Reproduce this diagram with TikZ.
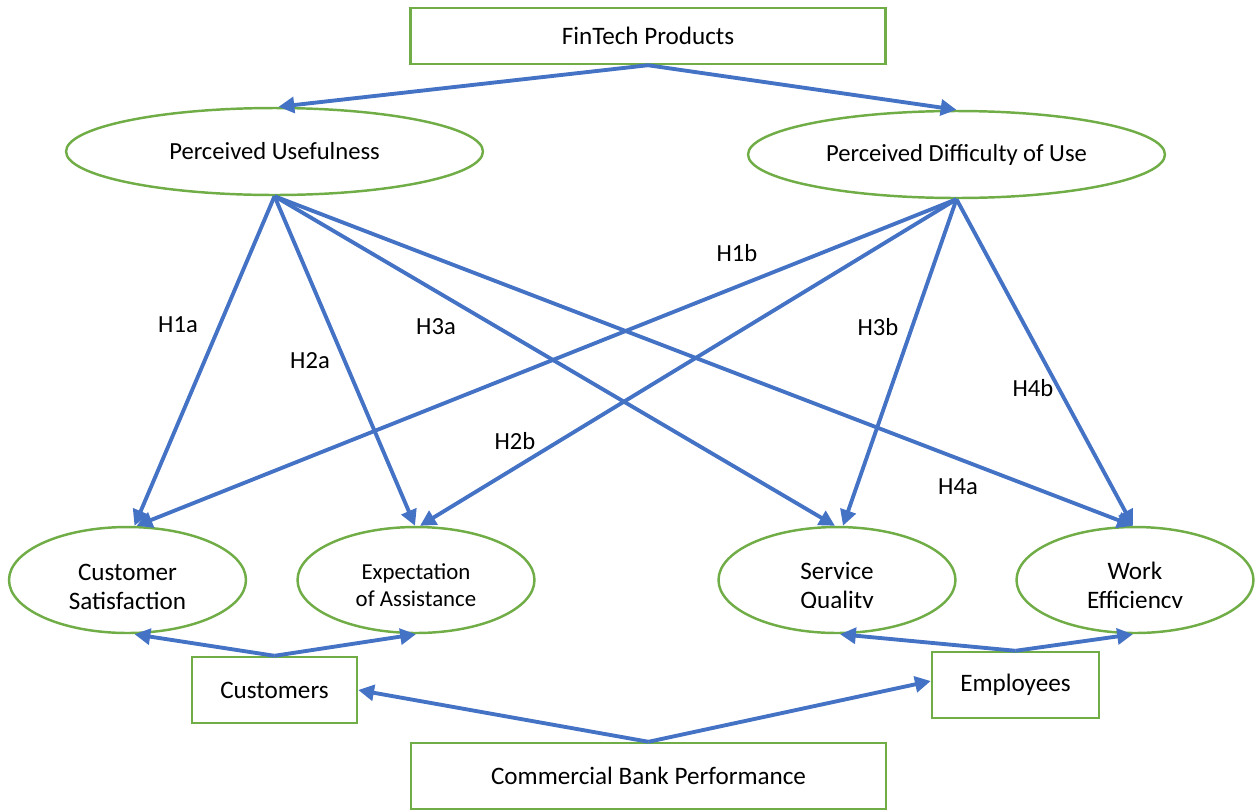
\documentclass[tikz,border=0pt]{standalone}
\usepackage{fontspec}
\setmainfont{Carlito}
\usetikzlibrary{arrows.meta,shapes.geometric}
\definecolor{grn}{HTML}{70AD47}
\definecolor{blu}{HTML}{4472C4}
\tikzset{
  rbox/.style={draw=grn,line width=1.4pt,rectangle,inner sep=0pt,font=\fontsize{14.3}{17}\selectfont},
  ellbig/.style={draw=grn,line width=1.4pt,ellipse,inner sep=0pt,minimum width=8.34cm,minimum height=1.74cm,font=\fontsize{14}{17}\selectfont},
  ellsm/.style={draw=grn,line width=1.4pt,ellipse,inner sep=0pt,minimum width=4.74cm,minimum height=2.12cm},
  etxt/.style={align=center,inner sep=0pt,font=\fontsize{14.3}{16.5}\selectfont},
  etxts/.style={align=center,inner sep=0pt,font=\fontsize{13}{15.5}\selectfont},
  hlab/.style={inner sep=0pt,font=\fontsize{14}{16}\selectfont},
  arr/.style={draw=blu,line width=2.2pt,-{Triangle[length=9pt,width=9pt]}},
}
\begin{document}
\begin{tikzpicture}[x=0.02cm,y=-0.02cm]
\useasboundingbox (0,0) rectangle (1255,809);
% boxes
\node[rbox,minimum width=9.5cm,minimum height=1.12cm] (fp) at (648,36) {FinTech Products};
\node[rbox,minimum width=3.3cm,minimum height=1.32cm] (cu) at (274.5,690) {Customers};
\node[rbox,minimum width=3.34cm,minimum height=1.32cm] (em) at (1015.5,685) {Employees};
\node[rbox,minimum width=9.5cm,minimum height=1.32cm] (cbp) at (648.5,776) {Commercial Bank Performance};
% big ellipses
\node[ellbig] (pu) at (274.5,151.5) {Perceived Usefulness};
\node[ellbig] (pd) at (956.5,154.5) {Perceived Difficulty of Use};
% small ellipses
\node[ellsm] (cs) at (127.5,580) {};
\node[etxt] (cst) at (127.5,587) {Customer\\Satisfaction};
\node[ellsm] (ea) at (416,580) {};
\node[etxts] (eat) at (416,585) {Expectation\\of Assistance};
\node[ellsm] (sq) at (837,580) {};
\begin{scope}
\clip (720,540) rectangle (955,607);
\node[etxt] (sqt) at (837,587) {Service\\Quality};
\end{scope}
\node[ellsm] (we) at (1135,580) {};
\begin{scope}
\clip (1020,540) rectangle (1250,607);
\node[etxt] (wet) at (1135,587) {Work\\Efficiency};
\end{scope}
% arrows from FinTech
\draw[arr] (fp.south) -- ([xshift=0.08cm]pu.north);
\draw[arr] (fp.south) -- (pd.north);
% from PU
\draw[arr] (pu.south) -- ([xshift=0.14cm]cs.north);
\draw[arr] (pu.south) -- ([xshift=-0.02cm]ea.north);
\draw[arr] (pu.south) -- ([xshift=-0.04cm]sq.north);
\draw[arr] (pu.south) -- ([xshift=-0.04cm]we.north);
% from PD
\draw[arr] (pd.south) -- ([xshift=0.18cm]cs.north);
\draw[arr] (pd.south) -- ([xshift=0.08cm]ea.north);
\draw[arr] (pd.south) -- ([xshift=0.12cm]sq.north);
\draw[arr] (pd.south) -- ([xshift=-0.04cm]we.north);
% bottom
\draw[arr] (cu.north) -- ([xshift=0.14cm]cs.south);
\draw[arr] (cu.north) -- (ea.south);
\draw[arr] (em.north) -- ([xshift=0.06cm]sq.south);
\draw[arr] (em.north) -- ([xshift=-0.04cm]we.south);
\draw[arr] (cbp.north) -- (cu.east);
\draw[arr] (cbp.north) -- ([yshift=0.08cm]em.west);
% labels
\node[hlab] (h1a) at (178,325) {H1a};
\node[hlab] (h2a) at (310,361) {H2a};
\node[hlab] (h3a) at (436,327) {H3a};
\node[hlab] (h1b) at (737,253) {H1b};
\node[hlab] (h2b) at (515,441) {H2b};
\node[hlab] (h3b) at (878,327) {H3b};
\node[hlab] (h4b) at (1033,388) {H4b};
\node[hlab] (h4a) at (958,487) {H4a};
\end{tikzpicture}
\end{document}
